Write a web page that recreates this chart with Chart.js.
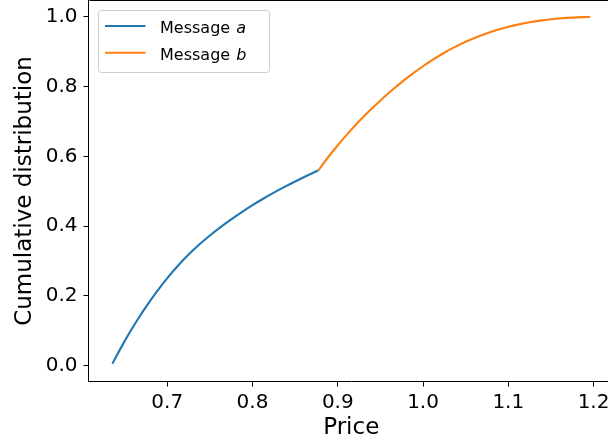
<!DOCTYPE html>
<html>
<head>
<meta charset="utf-8">
<script src="https://cdn.jsdelivr.net/npm/chart.js@4/dist/chart.umd.min.js"></script>
<style>
  html, body { margin: 0; padding: 0; background: #fff; overflow: hidden; }
  #wrap { width: 620px; height: 447px; }
</style>
</head>
<body>
<div id="wrap"><canvas id="c" width="620" height="447"></canvas></div>
<script>
// Price levels and cumulative distribution for each message
const priceA = [0.6356, 0.650, 0.6625, 0.675, 0.6875, 0.700, 0.7125, 0.725, 0.7375, 0.750, 0.7625,
                0.775, 0.7875, 0.800, 0.8125, 0.825, 0.8375, 0.850, 0.8625, 0.875, 0.8773];
const cdfA   = [0.0050, 0.0698, 0.1211, 0.1680, 0.2111, 0.2505, 0.2861, 0.3180, 0.3468, 0.3730, 0.3971,
                0.4194, 0.4401, 0.4597, 0.4782, 0.4957, 0.5122, 0.5278, 0.5428, 0.5572, 0.5598];

const priceB = [0.8773, 0.8875, 0.900, 0.9125, 0.925, 0.9375, 0.950, 0.9625, 0.975, 0.9875, 1.000,
                1.0125, 1.025, 1.0375, 1.050, 1.0625, 1.075, 1.0875, 1.100, 1.1125, 1.125,
                1.1375, 1.150, 1.1625, 1.175, 1.1875, 1.196];
const cdfB   = [0.5598, 0.5937, 0.6318, 0.6673, 0.7004, 0.7314, 0.7604, 0.7875, 0.8129, 0.8365, 0.8584,
                0.8787, 0.8972, 0.9138, 0.9286, 0.9416, 0.9530, 0.9629, 0.9714, 0.9785, 0.9844,
                0.9892, 0.9930, 0.9959, 0.9979, 0.9992, 0.9996];

const seriesNames = ['Message ', 'Message '];
const seriesSymbols = ['a', 'b'];
const xTicks = [0.7, 0.8, 0.9, 1.0, 1.1, 1.2];
const yTicks = [0.0, 0.2, 0.4, 0.6, 0.8, 1.0];

const FONT = "'DejaVu Sans', sans-serif";

function toPoints(xs, ys) { return xs.map((x, i) => ({ x: x, y: ys[i] })); }

// Frame around the plotting area (top and right sides)
const framePlugin = {
  id: 'frame',
  afterDatasetsDraw(chart) {
    const { ctx, chartArea: a } = chart;
    ctx.save();
    ctx.strokeStyle = '#000';
    ctx.lineWidth = 1;
    ctx.beginPath();
    ctx.moveTo(Math.round(a.left) + 0.5, Math.floor(a.top) + 0.5);
    ctx.lineTo(Math.round(a.right) + 0.5, Math.floor(a.top) + 0.5);
    ctx.lineTo(Math.round(a.right) + 0.5, Math.round(a.bottom) + 0.5);
    ctx.stroke();
    ctx.restore();
  }
};

// Legend box in the upper-left corner with an italic series symbol
const legendPlugin = {
  id: 'innerLegend',
  afterDraw(chart) {
    const { ctx, chartArea: a } = chart;
    const x0 = Math.round(a.left) + 9.5, y0 = 10.5, w = 171, h = 62, r = 3;
    ctx.save();
    ctx.fillStyle = 'rgba(255,255,255,0.8)';
    ctx.strokeStyle = '#cccccc';
    ctx.lineWidth = 1;
    ctx.beginPath();
    ctx.roundRect(x0, y0, w, h, r);
    ctx.fill();
    ctx.stroke();
    const rows = [26, 52.7];
    chart.data.datasets.forEach((ds, i) => {
      const y = rows[i];
      ctx.strokeStyle = ds.borderColor;
      ctx.lineWidth = 2.1;
      ctx.beginPath();
      ctx.moveTo(x0 + 6.5, y);
      ctx.lineTo(x0 + 47, y);
      ctx.stroke();
      ctx.fillStyle = '#000';
      ctx.textBaseline = 'alphabetic';
      ctx.textAlign = 'left';
      ctx.font = '16px ' + FONT;
      const tx = x0 + 61.5;
      ctx.fillText(seriesNames[i], tx, y + 6.8);
      const wName = ctx.measureText(seriesNames[i]).width;
      ctx.font = 'oblique 16px ' + FONT;
      ctx.fillText(seriesSymbols[i], tx + wName + 1, y + 6.8);
    });
    ctx.restore();
  }
};

const tickFont = { family: FONT, size: 20 };
const titleFont = { family: FONT, size: 23 };

new Chart(document.getElementById('c'), {
  type: 'scatter',
  data: {
    datasets: [
      {
        label: 'Message a',
        data: toPoints(priceA, cdfA),
        showLine: true,
        borderColor: '#1f77b4',
        borderWidth: 2.1,
        pointRadius: 0,
        cubicInterpolationMode: 'monotone',
        fill: false
      },
      {
        label: 'Message b',
        data: toPoints(priceB, cdfB),
        showLine: true,
        borderColor: '#ff7f0e',
        borderWidth: 2.1,
        pointRadius: 0,
        cubicInterpolationMode: 'monotone',
        fill: false
      }
    ]
  },
  options: {
    responsive: false,
    animation: false,
    devicePixelRatio: 1,
    layout: { padding: { left: 0, right: 6, top: 0.5, bottom: 0 } },
    plugins: {
      legend: { display: false },
      tooltip: { enabled: false }
    },
    scales: {
      x: {
        type: 'linear',
        position: 'bottom',
        min: 0.6076,
        max: 1.224,
        afterBuildTicks: s => { s.ticks = xTicks.map(v => ({ value: v })); },
        afterFit: s => { s.height = 65.5; s.paddingLeft = 0; s.paddingRight = 0; },
        ticks: {
          font: tickFont,
          color: '#000',
          padding: 4,
          maxRotation: 0,
          autoSkip: false,
          callback: v => Number(v).toFixed(1)
        },
        grid: { drawOnChartArea: false, drawTicks: true, tickLength: 5, tickColor: '#000', tickWidth: 1 },
        border: { display: true, color: '#000', width: 1 },
        title: { display: true, text: 'Price', font: titleFont, color: '#000', padding: { top: 0, bottom: 5 } }
      },
      y: {
        type: 'linear',
        position: 'left',
        min: -0.046,
        max: 1.047,
        afterBuildTicks: s => { s.ticks = yTicks.map(v => ({ value: v })); },
        afterFit: s => { s.width = 88.5; s.paddingTop = 0; s.paddingBottom = 0; },
        ticks: {
          font: tickFont,
          color: '#000',
          padding: 6,
          autoSkip: false,
          callback: v => Number(v).toFixed(1)
        },
        grid: { drawOnChartArea: false, drawTicks: true, tickLength: 5, tickColor: '#000', tickWidth: 1 },
        border: { display: true, color: '#000', width: 1 },
        title: { display: true, text: 'Cumulative distribution', font: titleFont, color: '#000', padding: { top: 11, bottom: 0 } }
      }
    }
  },
  plugins: [framePlugin, legendPlugin]
});
</script>
</body>
</html>
